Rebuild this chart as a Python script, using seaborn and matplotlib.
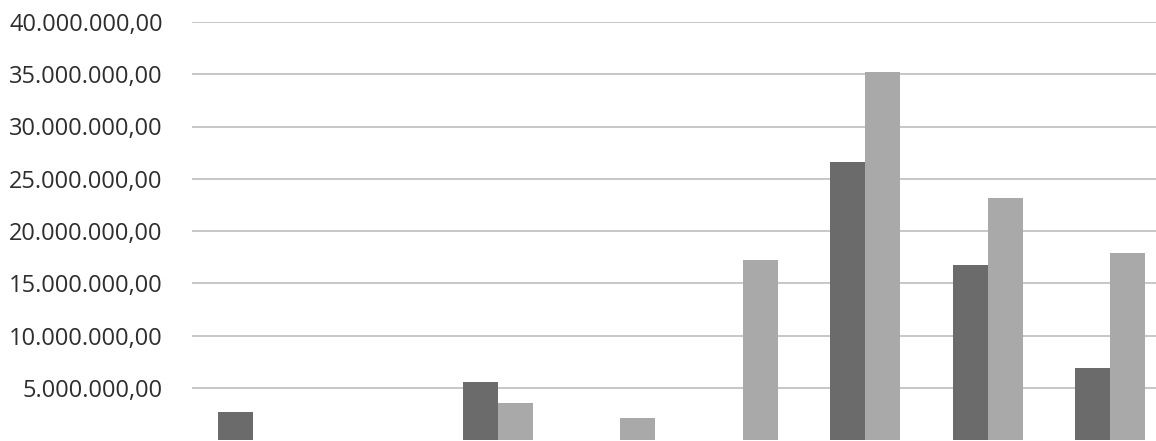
import matplotlib
matplotlib.use("Agg")
import matplotlib.pyplot as plt
import seaborn as sns
import pandas as pd
from matplotlib.ticker import FixedLocator, FuncFormatter

categories = ["C1", "C2", "C3", "C4", "C5", "C6", "C7", "C8"]
series_a = [2.7e6, 0, 5.55e6, 0, 0, 26.6e6, 16.7e6, 6.9e6]
series_b = [0, 0, 3.5e6, 2.1e6, 17.2e6, 35.2e6, 23.2e6, 17.9e6]
series_names = ["Serie 1", "Serie 2"]
yticks = [5e6, 10e6, 15e6, 20e6, 25e6, 30e6, 35e6, 40e6]

rows = []
for c, a, b in zip(categories, series_a, series_b):
    rows.append({"cat": c, "serie": series_names[0], "val": a})
    rows.append({"cat": c, "serie": series_names[1], "val": b})
df = pd.DataFrame(rows)

sns.set_theme(style="white")
plt.rcParams["font.family"] = ["Open Sans", "DejaVu Sans"]

W, H = 1156, 441
fig = plt.figure(figsize=(W / 100, H / 100), dpi=100)
left_px, right_px = 192, 192 + 8 * 122.4
top_px, bottom_px = 22, 440
ax = fig.add_axes([left_px / W, (H - bottom_px) / H,
                   (right_px - left_px) / W, (bottom_px - top_px) / H])

sns.barplot(data=df, x="cat", y="val", hue="serie", order=categories,
            hue_order=series_names, palette=["#6b6b6b", "#a9a9a9"],
            width=0.572, gap=0, saturation=1, linewidth=0, ax=ax, legend=False,
            zorder=3)

ax.set_xlim(-0.5, 7.5)
ax.set_ylim(0, 40e6)
ax.yaxis.set_major_locator(FixedLocator(yticks))


def fmt(v, pos):
    s = f"{v:,.2f}"
    return s.replace(",", "X").replace(".", ",").replace("X", ".")


ax.yaxis.set_major_formatter(FuncFormatter(fmt))
ax.grid(axis="y", color="#bdbdbd", linewidth=1.2, zorder=0)
ax.set_axisbelow(True)
for s in ax.spines.values():
    s.set_visible(False)
ax.tick_params(axis="y", length=0, pad=21, labelsize=17, labelcolor="#2e2e2e")
ax.tick_params(axis="x", length=0)
ax.set_xticklabels([])
ax.set_xlabel("")
ax.set_ylabel("")

fig.savefig("out.png", dpi=100, facecolor="white")
